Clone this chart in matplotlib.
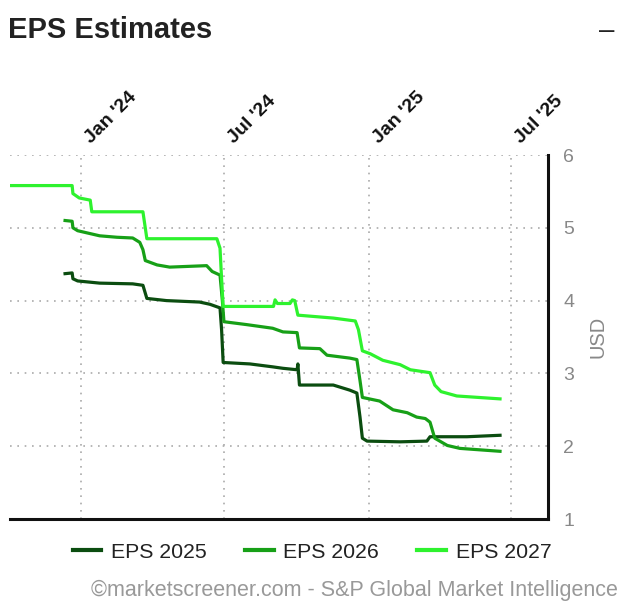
import matplotlib
matplotlib.use("Agg")
import matplotlib.pyplot as plt
import matplotlib.transforms as mtransforms
import pandas as pd

plt.rcParams['font.family'] = ['Liberation Sans', 'DejaVu Sans']

# ---- data ----
eps2025_dates = ["2023-12-12", "2023-12-21", "2023-12-22", "2023-12-28", "2024-01-25", "2024-03-07",
                 "2024-03-20", "2024-03-25", "2024-04-19", "2024-05-31", "2024-06-13", "2024-06-26",
                 "2024-06-28", "2024-06-30", "2024-08-03", "2024-09-01", "2024-09-14", "2024-10-02",
                 "2024-10-03", "2024-10-05", "2024-11-17", "2024-12-08", "2024-12-17", "2024-12-21",
                 "2024-12-24", "2024-12-30", "2025-02-10", "2025-03-16", "2025-03-20", "2025-05-06",
                 "2025-06-17"]
eps2025_vals = [4.37, 4.38, 4.30, 4.27, 4.24, 4.23,
                4.21, 4.03, 4.00, 3.98, 3.95, 3.90,
                3.60, 3.15, 3.13, 3.09, 3.07, 3.05,
                3.13, 2.84, 2.84, 2.77, 2.73, 2.40,
                2.11, 2.07, 2.06, 2.07, 2.13, 2.13,
                2.15]

eps2026_dates = ["2023-12-12", "2023-12-21", "2023-12-22", "2023-12-28", "2024-01-25", "2024-02-16",
                 "2024-03-07", "2024-03-16", "2024-03-20", "2024-03-23", "2024-04-07", "2024-04-23",
                 "2024-06-09", "2024-06-16", "2024-06-26", "2024-06-29", "2024-07-01", "2024-07-30",
                 "2024-09-01", "2024-09-14", "2024-10-02", "2024-10-05", "2024-10-31", "2024-11-09",
                 "2024-12-08", "2024-12-17", "2024-12-21", "2024-12-24", "2025-01-15", "2025-02-01",
                 "2025-02-19", "2025-03-03", "2025-03-14", "2025-03-20", "2025-03-26", "2025-04-11",
                 "2025-04-27", "2025-06-17"]
eps2026_vals = [5.10, 5.09, 5.00, 4.96, 4.89, 4.87,
                4.86, 4.80, 4.70, 4.55, 4.49, 4.46,
                4.48, 4.40, 4.35, 4.00, 3.71, 3.67,
                3.62, 3.57, 3.56, 3.35, 3.34, 3.25,
                3.21, 3.19, 2.90, 2.67, 2.62, 2.50,
                2.46, 2.40, 2.38, 2.33, 2.11, 2.01,
                1.97, 1.93]

eps2027_dates = ["2023-10-03", "2023-12-21", "2023-12-22", "2023-12-30", "2024-01-13", "2024-01-15",
                 "2024-03-20", "2024-03-25", "2024-06-22", "2024-06-26", "2024-06-28", "2024-06-30",
                 "2024-09-02", "2024-09-04", "2024-09-07", "2024-09-23", "2024-09-26", "2024-09-29",
                 "2024-10-03", "2024-11-17", "2024-12-15", "2024-12-19", "2024-12-24", "2025-01-03",
                 "2025-01-19", "2025-02-10", "2025-02-23", "2025-03-20", "2025-03-26", "2025-04-03",
                 "2025-04-23", "2025-06-17"]
eps2027_vals = [5.58, 5.58, 5.47, 5.41, 5.38, 5.22,
                5.22, 4.85, 4.85, 4.72, 4.30, 3.92,
                3.92, 4.01, 3.96, 3.96, 4.01, 4.00,
                3.80, 3.76, 3.72, 3.60, 3.31, 3.27,
                3.18, 3.12, 3.05, 3.01, 2.84, 2.75,
                2.69, 2.65]

series_labels = ["EPS 2025", "EPS 2026", "EPS 2027"]
series_colors = ["#0b4d10", "#17a017", "#2ef22e"]
xtick_dates = ["2024-01-01", "2024-07-01", "2025-01-01", "2025-07-01"]
xtick_labels = ["Jan '24", "Jul '24", "Jan '25", "Jul '25"]
yticks = [1, 2, 3, 4, 5, 6]

# ---- figure ----
fig = plt.figure(figsize=(6.34, 6.14), dpi=100)
ax = fig.add_axes([10/634, 1 - 519/614, (548 - 10)/634, (519 - 155)/614])

all_series = [(eps2025_dates, eps2025_vals), (eps2026_dates, eps2026_vals), (eps2027_dates, eps2027_vals)]
for (d, v), lab, col in zip(all_series, series_labels, series_colors):
    ax.plot(pd.to_datetime(d), v, color=col, lw=2.3, label=lab, solid_joinstyle='round')

ax.set_xlim(pd.Timestamp("2023-10-03"), pd.Timestamp("2025-08-17"))
ax.set_ylim(1, 6)

ax.spines['left'].set_visible(False)
ax.spines['top'].set_visible(False)
ax.spines['right'].set_linewidth(2.2)
ax.spines['bottom'].set_linewidth(2.2)
ax.spines['right'].set_color('#111111')
ax.spines['bottom'].set_color('#111111')

ax.yaxis.tick_right()
ax.yaxis.set_label_position('right')
ax.set_yticks(yticks)
ax.set_yticklabels([str(t) for t in yticks])
ax.tick_params(axis='y', length=0, pad=11, labelsize=14, labelcolor='#888888')
ax.set_ylabel("USD", color='#888888', fontsize=14.5, labelpad=10)

ax.xaxis.tick_top()
ax.set_xticks(pd.to_datetime(xtick_dates))
ax.set_xticklabels(xtick_labels, rotation=45, ha='left', va='bottom',
                   rotation_mode='anchor', fontsize=14, fontweight='bold', color='#111111')
ax.tick_params(axis='x', length=0, pad=6)
shift = mtransforms.ScaledTranslation(13/100, 0, fig.dpi_scale_trans)
for lbl in ax.get_xticklabels():
    lbl.set_transform(lbl.get_transform() + shift)

ax.grid(True, color='#aaaaaa', linestyle=(0, (1, 3.4)), linewidth=1.2)
ax.set_axisbelow(True)

fig.text(8/634, 1 - 30/614, "EPS Estimates", fontsize=21, fontweight='bold',
         color='#222222', va='center', ha='left')
fig.text(607/634, 1 - 31/614, "–", fontsize=20, color='#222222', va='center', ha='center')

leg = fig.legend(loc='center', bbox_to_anchor=(312/634, 1 - 552/614), ncol=3, frameon=False,
                 fontsize=15.3, handlelength=1.35, handletextpad=0.45, columnspacing=1.8)
for t in leg.get_texts():
    t.set_color('#222222')
for h in leg.get_lines():
    h.set_linewidth(3)

fig.text(354/634, 1 - 590/614, "©marketscreener.com - S&P Global Market Intelligence",
         fontsize=15.5, color='#999999', va='center', ha='center')

fig.savefig("out.png", dpi=100)
